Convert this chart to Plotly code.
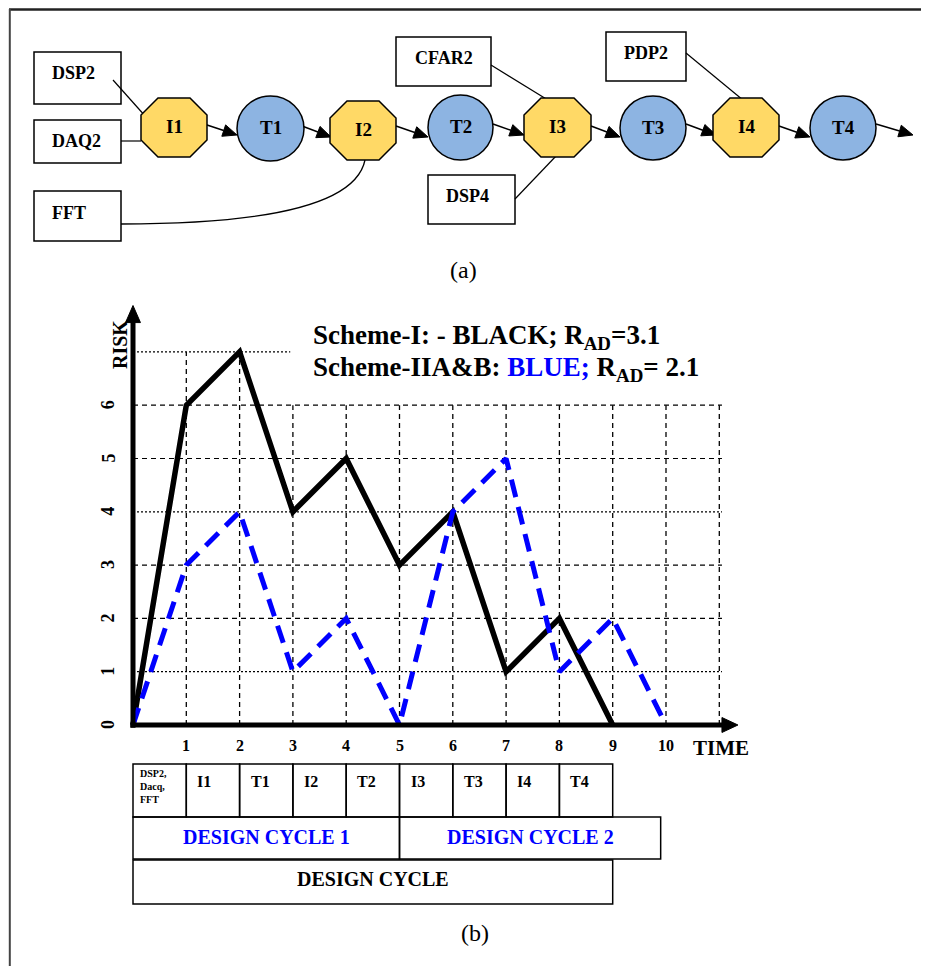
import math
import plotly.graph_objects as go

# ---------------- data ----------------
time_scheme1 = [0, 1, 2, 3, 4, 5, 6, 7, 8, 9]
risk_scheme1 = [0, 6, 7, 4, 5, 3, 4, 1, 2, 0]
time_scheme2 = [0, 1, 2, 3, 4, 5, 6, 7, 8, 9, 10]
risk_scheme2 = [0, 3, 4, 1, 2, 0, 4, 5, 1, 2, 0]
x_ticks = [1, 2, 3, 4, 5, 6, 7, 8, 9, 10]
x_tick_labels = ["1", "2", "3", "4", "5", "6", "7", "8", "9", "10"]
y_ticks = [0, 1, 2, 3, 4, 5, 6]
y_tick_labels = ["0", "1", "2", "3", "4", "5", "6"]
phase_labels = ["DSP2,<br>Dacq,<br>FFT", "I1", "T1", "I2", "T2", "I3", "T3", "I4", "T4"]
phase_starts = [0, 1, 2, 3, 4, 5, 6, 7, 8]
cycle_labels = ["DESIGN CYCLE 1", "DESIGN CYCLE 2"]
cycle_spans = [(0, 5), (5, 9.9)]
overall_label = "DESIGN CYCLE"
overall_span = (0, 9)
flow_nodes = ["I1", "T1", "I2", "T2", "I3", "T3", "I4", "T4"]
input_boxes = ["DSP2", "DAQ2", "FFT", "CFAR2", "DSP4", "PDP2"]

# ---------------- layout geometry (page pixels) ----------------
OFF = 8                      # page body margin
W, H = 929 - OFF, 966 - OFF  # figure size
X0PX, Y0PX, UNIT = 133.0, 725.0, 53.3
XR = (-0.5, 12.0)
YR = (-0.5, 8.5)

def PX(x):
    return (x - OFF) / W

def PY(y):
    return 1 - (y - OFF) / H

def ppath(pts, close=True):
    s = "M " + " L ".join(f"{PX(x):.5f},{PY(y):.5f}" for x, y in pts)
    return s + (" Z" if close else "")

SERIF = "Liberation Serif"
shapes = []
ann = []

def text(x, y, t, size, color="black", bold=True, xanchor="center", angle=0,
         xref="paper", yref="paper", xshift=0, yshift=0, align="center"):
    ann.append(dict(x=x, y=y, xref=xref, yref=yref, text=t, showarrow=False,
                    xanchor=xanchor, yanchor="middle", textangle=angle,
                    xshift=xshift, yshift=yshift, align=align,
                    font=dict(family=SERIF, size=size, color=color,
                              weight="bold" if bold else "normal")))

# frame
shapes.append(dict(type="line", xref="paper", yref="paper", x0=PX(9), x1=PX(929),
                   y0=PY(9.5), y1=PY(9.5), line=dict(color="#222", width=2.5)))
shapes.append(dict(type="line", xref="paper", yref="paper", x0=PX(9.8), x1=PX(9.8),
                   y0=PY(9), y1=PY(966), line=dict(color="#444", width=2)))

# ---------------- diagram (a) ----------------
node_boxes = {
    "I1": (141, 98, 207, 157), "T1": (237, 96, 304, 161),
    "I2": (330, 101, 396, 160), "T2": (428, 95, 493, 160),
    "I3": (524, 98, 591, 157), "T3": (620, 96, 686, 160),
    "I4": (713, 98, 779, 157), "T4": (810, 96, 876, 160),
}
input_geom = {
    "DSP2": ((34, 52, 121, 104), 50, 73),
    "DAQ2": ((34, 120, 121, 163), 50, 141),
    "FFT": ((34, 191, 121, 241), 50, 213),
    "CFAR2": ((396, 37, 491, 86), 413, 58),
    "DSP4": ((428, 175, 515, 224), 444, 196),
    "PDP2": ((606, 32, 686, 81), 622, 53),
}
connectors = [
    [(113, 80), (146, 117)],
    [(121, 141), (141, 141)],
    [(491, 65), (556, 105)],
    [(515, 199), (557, 155)],
    [(686, 53), (749, 105)],
]
flow_arrows = [
    ((204, 124), (237, 135)), ((302, 126), (331, 137)), ((396, 126), (428, 137)),
    ((493, 124), (524, 135)), ((591, 126), (620, 137)), ((686, 124), (716, 135)),
    ((779, 126), (810, 137)), ((876, 124), (913, 135)),
]

for name in input_boxes:
    (x0, y0, x1, y1), tx, ty = input_geom[name]
    shapes.append(dict(type="rect", xref="paper", yref="paper", x0=PX(x0), x1=PX(x1),
                       y0=PY(y1), y1=PY(y0), line=dict(color="black", width=1.5),
                       fillcolor="white"))
    text(PX(tx), PY(ty), name, 18, xanchor="left")

for pts in connectors:
    shapes.append(dict(type="path", xref="paper", yref="paper", path=ppath(pts, False),
                       line=dict(color="black", width=1.2)))
# FFT curve to I2
shapes.append(dict(type="path", xref="paper", yref="paper",
                   path=f"M {PX(121):.5f},{PY(224):.5f} Q {PX(352):.5f},{PY(224):.5f} {PX(365):.5f},{PY(160):.5f}",
                   line=dict(color="black", width=1.3)))

for (sx, sy), (ex, ey) in flow_arrows:
    dx, dy = ex - sx, ey - sy
    L = math.hypot(dx, dy)
    ux, uy = dx / L, dy / L
    hl, hw = 14, 6
    bx, by = ex - ux * hl, ey - uy * hl
    shapes.append(dict(type="path", xref="paper", yref="paper",
                       path=ppath([(sx, sy), (bx, by)], False),
                       line=dict(color="black", width=1.5)))
    shapes.append(dict(type="path", xref="paper", yref="paper",
                       path=ppath([(ex, ey), (bx - uy * hw, by + ux * hw), (bx + uy * hw, by - ux * hw)]),
                       fillcolor="black", line=dict(color="black", width=1)))

for name in flow_nodes:
    x0, y0, x1, y1 = node_boxes[name]
    if name.startswith("I"):
        c = 17
        pts = [(x0 + c, y0), (x1 - c, y0), (x1, y0 + c), (x1, y1 - c),
               (x1 - c, y1), (x0 + c, y1), (x0, y1 - c), (x0, y0 + c)]
        shapes.append(dict(type="path", xref="paper", yref="paper", path=ppath(pts),
                           fillcolor="#FFD966", line=dict(color="black", width=1.5)))
    else:
        shapes.append(dict(type="circle", xref="paper", yref="paper", x0=PX(x0), x1=PX(x1),
                           y0=PY(y1), y1=PY(y0), fillcolor="#8DB4E2",
                           line=dict(color="black", width=1.5)))
    text(PX((x0 + x1) / 2), PY((y0 + y1) / 2 - 1), name, 19)

text(PX(463), PY(270), "(a)", 24, bold=False)

# ---------------- chart (b) ----------------
fig = go.Figure()
fig.add_trace(go.Scatter(x=time_scheme1, y=risk_scheme1, mode="lines",
                         line=dict(color="black", width=5.5), hoverinfo="skip"))
fig.add_trace(go.Scatter(x=time_scheme2, y=risk_scheme2, mode="lines",
                         line=dict(color="#0000FF", width=5, dash="18px,10px"),
                         hoverinfo="skip"))

# grid
for v in range(1, 12):
    top = 7 if v <= 2 else 6
    shapes.append(dict(type="line", xref="x", yref="y", x0=v, x1=v, y0=0, y1=top,
                       layer="below", line=dict(color="black", width=1.3, dash="5px,4px")))
for h in range(1, 7):
    dash = "2px,2px" if h in (1, 4) else "5px,4px"
    shapes.append(dict(type="line", xref="x", yref="y", x0=0, x1=11.05, y0=h, y1=h,
                       layer="below", line=dict(color="black", width=1.2, dash=dash)))
shapes.append(dict(type="line", xref="x", yref="y", x0=0, x1=2.95, y0=7, y1=7,
                   layer="below", line=dict(color="black", width=1.2, dash="2px,2px")))

# axes with arrows
shapes.append(dict(type="line", xref="x", yref="y", x0=0, x1=0, y0=-0.05, y1=7.58,
                   line=dict(color="black", width=5)))
shapes.append(dict(type="path", xref="x", yref="y",
                   path="M 0,7.87 L -0.14,7.55 L 0.14,7.55 Z",
                   fillcolor="black", line=dict(color="black", width=1)))
shapes.append(dict(type="line", xref="x", yref="y", x0=-0.05, x1=11.08, y0=0, y1=0,
                   line=dict(color="black", width=5)))
shapes.append(dict(type="path", xref="x", yref="y",
                   path="M 11.35,0 L 11.05,0.14 L 11.05,-0.14 Z",
                   fillcolor="black", line=dict(color="black", width=1)))

for v, t in zip(x_ticks, x_tick_labels):
    text(v, 0, t, 16, xref="x", yref="y", yshift=-20)
for v, t in zip(y_ticks, y_tick_labels):
    text(0, v, t, 18, xref="x", yref="y", xshift=-25, angle=-90)
text(PX(120), PY(345), "RISK", 20, angle=-90)
text(PX(721), PY(748), "TIME", 21)

text(PX(311), PY(337), "Scheme-I: - BLACK; R<sub>AD</sub>=3.1", 27, xanchor="left")
text(PX(311), PY(369),
     "Scheme-IIA&amp;B: <span style='color:#0000FF'>BLUE;</span> R<sub>AD</sub>= 2.1",
     27, xanchor="left")

# phase table
for s, lab in zip(phase_starts, phase_labels):
    shapes.append(dict(type="rect", xref="x", yref="paper", x0=s, x1=s + 1,
                       y0=PY(817), y1=PY(764), line=dict(color="black", width=1.5)))
    if s == 0:
        text(s, PY(786), lab, 10, xref="x", xanchor="left", xshift=5, align="left")
    else:
        text(s, PY(781), lab, 16, xref="x", xanchor="left", xshift=9)
for (a, b), lab in zip(cycle_spans, cycle_labels):
    shapes.append(dict(type="rect", xref="x", yref="paper", x0=a, x1=b,
                       y0=PY(859), y1=PY(817), line=dict(color="black", width=1.5)))
    text((a + b) / 2, PY(837), lab, 20, color="#0000FF", xref="x")
shapes.append(dict(type="rect", xref="x", yref="paper", x0=overall_span[0], x1=overall_span[1],
                   y0=PY(904), y1=PY(860), line=dict(color="black", width=1.5)))
text(sum(overall_span) / 2, PY(879), overall_label, 20, xref="x")

text(PX(475), PY(933), "(b)", 24, bold=False)

fig.update_layout(
    width=W, height=H, autosize=False,
    margin=dict(l=0, r=0, t=0, b=0, pad=0),
    paper_bgcolor="white", plot_bgcolor="rgba(0,0,0,0)",
    showlegend=False,
    xaxis=dict(range=list(XR),
               domain=[PX(X0PX + XR[0] * UNIT), PX(X0PX + XR[1] * UNIT)],
               visible=False, fixedrange=True),
    yaxis=dict(range=list(YR),
               domain=[PY(Y0PX - YR[0] * UNIT), PY(Y0PX - YR[1] * UNIT)],
               visible=False, fixedrange=True),
    shapes=shapes, annotations=ann,
)
fig.write_html("out.html")
